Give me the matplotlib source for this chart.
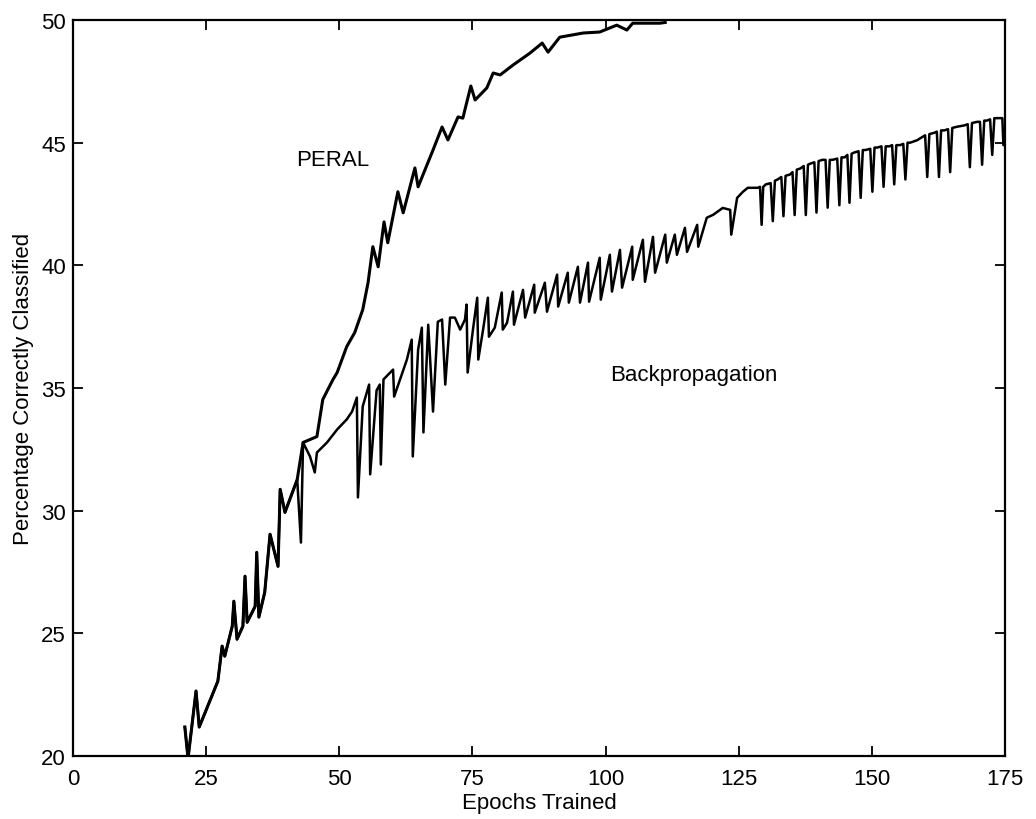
import matplotlib
matplotlib.use("Agg")
import matplotlib.pyplot as plt

plt.rcParams['font.family'] = ['Liberation Sans', 'DejaVu Sans']

# ---- data ----
# early section shared by both curves (epoch, percent)
common_x = [21.0, 21.6, 23.1, 23.7, 27.2, 28.0, 28.5, 29.9, 30.2, 30.8, 31.9, 32.3,
            32.7, 34.2, 34.5, 34.9, 36.0, 37.0, 38.5, 38.9, 39.8, 42.1]
common_y = [21.18, 19.9, 22.65, 21.18, 23.05, 24.48, 24.07, 25.29, 26.31, 24.76, 25.29, 27.33,
            25.45, 26.1, 28.3, 25.66, 26.67, 29.04, 27.73, 30.87, 29.93, 31.27]

peral_x = [43.2, 45.8, 46.9, 48.8, 49.6, 51.4, 52.9, 54.4, 55.4, 56.3, 57.3, 58.4,
           59.1, 61.0, 62.0, 64.2, 64.8, 67.6, 69.3, 70.4, 72.3, 73.2, 74.7, 75.5,
           77.7, 78.9, 80.2, 82.6, 85.8, 88.1, 89.2, 91.4, 95.8, 98.9, 102.1, 104.0,
           105.1, 110.2, 111.2]
peral_y = [32.78, 33.02, 34.53, 35.34, 35.63, 36.69, 37.26, 38.19, 39.29, 40.76, 39.94, 41.77,
           40.92, 43.0, 42.14, 43.97, 43.2, 44.7, 45.64, 45.11, 46.05, 46.0, 47.31, 46.74,
           47.23, 47.84, 47.76, 48.16, 48.65, 49.06, 48.69, 49.3, 49.47, 49.51, 49.79, 49.59,
           49.87, 49.87, 49.9]

backprop_x = [42.8, 43.2, 44.5, 45.4, 45.8, 47.7, 49.6, 51.4, 52.4, 53.3, 53.5, 54.4,
              55.6, 55.8, 57.0, 57.6, 57.8, 58.3, 60.1, 60.3, 62.7, 63.6, 63.8, 64.8,
              65.5, 65.8, 66.7, 67.6, 68.5, 69.3, 69.9, 70.8, 71.7, 72.7, 73.6, 73.9,
              74.1, 75.1, 75.9, 76.1, 77.0, 77.9, 78.1, 79.2, 80.5, 80.7, 81.5, 82.6,
              82.8, 84.5, 84.9, 86.6, 86.7, 88.6, 89.0, 90.9, 91.1, 92.9, 93.1, 94.8,
              95.2, 96.7, 96.9, 98.9, 99.1, 100.8, 101.2, 102.7, 103.1, 105.0, 105.1, 107.0,
              107.4, 108.9, 109.3, 111.2, 111.5, 113.0, 113.4, 114.9, 115.3, 117.2, 117.4, 119.0,
              120.2, 122.0, 123.4, 123.6, 124.7, 125.8, 126.7,
              128.6, 129.0, 129.3, 129.6, 130.1, 131.0, 131.4, 131.8, 132.3, 133.0, 133.4, 133.8,
              134.6, 135.1, 135.5, 135.9, 136.6, 137.2, 137.6, 138.0, 138.5, 139.2, 139.6, 140.0,
              140.7, 141.3, 141.7, 142.1, 142.6, 143.5, 143.9, 144.3, 144.9, 145.4, 145.8, 146.2,
              146.7, 147.5, 147.9, 148.3, 148.8, 149.7, 150.1, 150.5, 151.0, 151.8, 152.2, 152.6,
              153.3, 153.8, 154.2, 154.6, 155.3, 155.9, 156.3, 156.7, 157.2, 158.5, 160.0, 160.4,
              160.8, 161.7, 162.2, 162.6, 163.0, 163.6, 164.3, 164.7, 165.1, 166.0, 167.3, 168.0,
              168.4, 168.8, 169.8, 170.3, 170.7, 171.1, 171.6, 172.2, 172.6, 173.0, 173.5, 174.5,
              174.7, 175.0]
backprop_y = [28.7, 32.78, 32.21, 31.56, 32.37, 32.78, 33.31, 33.72, 34.04, 34.61, 30.54, 34.25,
              35.14, 31.48, 34.9, 35.14, 31.88, 35.35, 35.75, 34.65, 36.16, 36.97, 32.21, 36.56,
              37.46, 33.19, 37.58, 34.04, 37.7, 37.79, 35.14, 37.87, 37.87, 37.38, 37.79, 38.4,
              35.63, 37.38, 38.68, 36.16, 37.38, 38.68, 37.09, 37.46, 38.89, 37.38, 37.66, 38.93,
              37.58, 39.0, 37.87, 39.21, 38.07, 39.29, 38.11, 39.62, 38.32, 39.7, 38.48, 39.94,
              38.48, 40.11, 38.52, 40.31, 38.6, 40.43, 38.93, 40.63, 39.09, 40.76, 39.41, 41.04,
              39.33, 41.16, 39.7, 41.25, 40.11, 41.25, 40.43, 41.53, 40.55, 41.65, 40.76, 41.94,
              42.06, 42.34, 42.26, 41.25, 42.75, 43.0, 43.16,
              43.16, 43.2, 41.65, 43.2, 43.3, 43.35, 41.8, 43.45, 43.5, 43.6, 42.0, 43.65,
              43.7, 43.8, 42.05, 43.9, 43.95, 44.05, 42.05, 44.1, 44.15, 44.2, 42.15, 44.25,
              44.3, 44.3, 42.35, 44.3, 44.3, 44.35, 42.45, 44.4, 44.4, 44.5, 42.55, 44.55,
              44.6, 44.65, 42.75, 44.7, 44.7, 44.75, 43.0, 44.8, 44.8, 44.85, 43.2, 44.85,
              44.85, 44.9, 43.3, 44.9, 44.9, 44.95, 43.5, 45.0, 45.0, 45.1, 45.3, 43.6,
              45.35, 45.4, 45.45, 43.6, 45.5, 45.5, 45.55, 43.8, 45.6, 45.65, 45.7, 45.75,
              44.0, 45.8, 45.85, 45.85, 44.1, 45.9, 45.9, 45.95, 44.5, 46.0, 46.0, 46.0,
              44.9, 44.9]

x_ticks = [0, 25, 50, 75, 100, 125, 150, 175]
y_ticks = [20, 25, 30, 35, 40, 45, 50]

# ---- figure ----
fig = plt.figure(figsize=(10.36, 8.2), dpi=100)
ax = fig.add_axes([73 / 1036, 1 - 757 / 820, (1005 - 73) / 1036, (757 - 21) / 820])

ax.plot(common_x + peral_x, common_y + peral_y, color='black', lw=2.2)
ax.plot(common_x + backprop_x, common_y + backprop_y, color='black', lw=1.8)

ax.set_xlim(0, 175)
ax.set_ylim(20, 50)
ax.set_xticks(x_ticks)
ax.set_yticks(y_ticks)
ax.tick_params(direction='in', length=7, width=1.3, top=True, right=True, labelsize=16)
ax.tick_params(axis='x', pad=9)
ax.tick_params(axis='y', pad=5)
for s in ax.spines.values():
    s.set_linewidth(1.6)

ax.set_xlabel('Epochs Trained', fontsize=16, labelpad=2)
ax.set_ylabel('Percentage Correctly Classified', fontsize=16, labelpad=5)

ax.text(41.9, 44.3, 'PERAL', fontsize=16, ha='left', va='center')
ax.text(100.8, 35.55, 'Backpropagation', fontsize=16, ha='left', va='center')

fig.savefig('out.png', dpi=100)
